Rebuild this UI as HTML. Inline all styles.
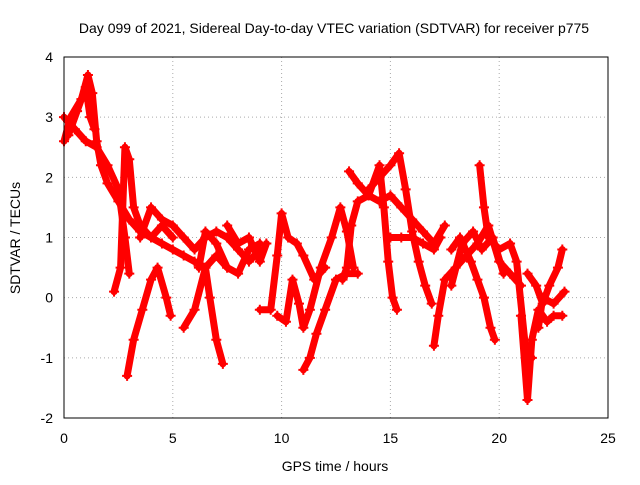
<!DOCTYPE html>
<html><head><meta charset="utf-8"><style>
body{margin:0;background:#fff;}
svg{font-family:"Liberation Sans",sans-serif;}
</style></head><body>
<svg id="chart" width="640" height="480">
<rect x="0" y="0" width="640" height="480" fill="#fff"/>
<text x="334" y="33" font-size="14" text-anchor="middle">Day 099 of 2021, Sidereal Day-to-day VTEC variation (SDTVAR) for receiver p775</text>
<text x="335" y="471" font-size="14" text-anchor="middle">GPS time / hours</text>
<text transform="translate(20,238) rotate(-90)" font-size="14" text-anchor="middle">SDTVAR / TECUs</text>
<g id="grid"></g><g id="ticks"></g><g id="series"></g>
<rect x="64" y="57" width="544" height="361" fill="none" stroke="#000"/>
</svg>
<script>
const xTicks=[0,5,10,15,20,25];
const yTicks=[-2,-1,0,1,2,3,4];
const trackA=[[0,2.6],[0.3,3.0],[0.8,3.3],[1.1,3.7],[1.3,3.4],[1.5,2.6],[1.7,2.2],[2.0,1.9],[2.5,1.6],[3.0,1.3],[3.5,1.1],[4,1.0],[4.5,0.9],[5,0.8],[5.5,0.7],[6,0.6],[6.5,0.5],[7,0.7],[7.5,0.5]];
const trackB=[[0,3.0],[0.5,2.8],[1,2.6],[1.5,2.5],[2,2.2],[2.5,1.8],[2.8,1.0],[3.0,0.4]];
const trackC=[[2.3,0.1],[2.6,0.5],[2.8,2.5],[3.0,2.3],[3.2,1.5],[3.5,1.2],[4,1.0],[4.5,1.2],[5,1.0]];
const trackD=[[2.9,-1.3],[3.2,-0.7],[3.6,-0.2],[4.0,0.3],[4.3,0.5],[4.7,0.0],[4.9,-0.3]];
const trackE=[[3.5,1.0],[4,1.5],[4.5,1.3],[5,1.2],[5.5,1.0],[6,0.8],[6.5,1.0],[7,1.1],[7.5,1.0],[8,0.8],[8.5,0.6],[9,0.8]];
const trackF=[[5.5,-0.5],[6,-0.2],[6.5,0.5],[6.7,0.0],[7.0,-0.7],[7.3,-1.1]];
const trackG=[[6.2,0.5],[6.5,1.1],[7,0.9],[7.5,0.5],[8,0.4],[8.5,0.8],[9,0.9]];
const trackH=[[9.0,-0.2],[9.5,-0.2],[9.8,0.7],[10,1.4],[10.3,1.0],[10.7,0.9],[11,0.7],[11.5,0.3],[12,0.5]];
const trackI=[[9.8,-0.3],[10.2,-0.4],[10.5,0.3],[10.8,-0.1],[11,-0.5],[11.3,-0.2],[11.8,0.5],[12.3,1.0],[12.7,1.5],[13,1.1],[13.3,0.5]];
const trackJ=[[11,-1.2],[11.3,-1.0],[11.6,-0.6],[12,-0.2],[12.5,0.3],[13,0.4],[13.5,0.4]];
const trackK=[[12.8,0.3],[13,0.5],[13.2,1.2],[13.5,1.6],[14,1.7],[14.5,1.6],[15,1.7],[15.5,1.5],[16,1.3],[16.5,1.1],[17,0.9],[17.5,1.2]];
const trackL=[[13.1,2.1],[13.5,1.9],[14,1.7],[14.5,2.2],[14.7,1.5],[14.9,0.6],[15.1,0.0],[15.3,-0.2]];
const trackM=[[14.0,1.8],[14.5,2.0],[15,2.2],[15.4,2.4],[15.7,1.8],[16,1.1],[16.3,0.6],[16.6,0.2],[16.9,-0.1]];
const trackN=[[15,1.0],[15.5,1.0],[16,1.0],[16.5,0.9],[17,0.8],[17.3,1.0]];
const trackO=[[17,-0.8],[17.2,-0.3],[17.5,0.3],[18,0.5],[18.5,0.7],[19,0.9],[19.5,1.2],[20,0.6],[20.5,0.4],[21,0.2]];
const trackP=[[17.8,0.8],[18.2,1.0],[18.7,0.6],[19,0.3],[19.3,0.0],[19.6,-0.5],[19.8,-0.7]];
const trackQ=[[19.1,2.2],[19.3,1.5],[19.5,1.0],[20,0.8],[20.5,0.9],[20.8,0.6],[21.2,-0.8],[21.5,-1.0]];
const trackR=[[21.0,-0.3],[21.3,-1.7],[21.5,-0.7],[21.8,-0.2],[22.2,-0.4],[22.5,-0.3],[22.9,-0.3]];
const trackS=[[21.3,0.4],[21.7,0.2],[22,-0.1],[22.3,0.2],[22.7,0.5],[22.9,0.8]];
const trackT=[[21.8,-0.5],[22,0.0],[22.5,-0.1],[23,0.1]];
const trackU=[[7.5,1.2],[8,0.9],[8.5,1.0],[9,0.6],[9.3,0.9]];
const trackV=[[17.8,0.2],[18.3,0.9],[18.8,1.1],[19.2,0.8],[19.7,1.0],[20.2,0.4]];
const trackW=[[0.2,2.7],[0.6,3.1],[1.0,3.5],[1.2,3.0],[1.4,2.8]];
const tracks=[trackA,trackB,trackC,trackD,trackE,trackF,trackG,trackH,trackI,trackJ,trackK,trackL,trackM,trackN,trackO,trackP,trackQ,trackR,trackS,trackT,trackU,trackV,trackW];
const NS="http://www.w3.org/2000/svg";
function xs(t){return 64+t*(544/25);}
function ys(v){return 418-(v+2)*(361/6);}
const grid=document.getElementById('grid'),tk=document.getElementById('ticks'),ser=document.getElementById('series');
xTicks.forEach(t=>{
 const x=xs(t);
 if(t>0&&t<25){const l=document.createElementNS(NS,'line');
 
 
 l.setAttribute('x1',x);l.setAttribute('x2',x);l.setAttribute('y1',57);l.setAttribute('y2',418);
 l.setAttribute('stroke','#aaa');l.setAttribute('stroke-dasharray','1,3');grid.appendChild(l);}
 const tx=document.createElementNS(NS,'text');
 
 
 tx.setAttribute('x',x);tx.setAttribute('y',443);tx.setAttribute('font-size','14');tx.setAttribute('text-anchor','middle');
 tx.textContent=t;tk.appendChild(tx);
});
yTicks.forEach(v=>{
 const y=ys(v);
 if(v>-2&&v<4){const l=document.createElementNS(NS,'line');
 
 
 l.setAttribute('x1',64);l.setAttribute('x2',608);l.setAttribute('y1',y);l.setAttribute('y2',y);
 l.setAttribute('stroke','#aaa');l.setAttribute('stroke-dasharray','1,3');grid.appendChild(l);}
 const tx=document.createElementNS(NS,'text');
 
 
 tx.setAttribute('x',53);tx.setAttribute('y',y+5);tx.setAttribute('font-size','14');tx.setAttribute('text-anchor','end');
 tx.textContent=v;tk.appendChild(tx);
});
tracks.forEach(tr=>{
 const p=document.createElementNS(NS,'polyline');
 
 
 p.setAttribute('points',tr.map(d=>xs(d[0])+','+ys(d[1])).join(' '));
 p.setAttribute('fill','none');p.setAttribute('stroke','#f00');p.setAttribute('stroke-width','7');
 p.setAttribute('stroke-linejoin','round');p.setAttribute('stroke-linecap','round');
 ser.appendChild(p);
 tr.forEach(d=>{
  const m=document.createElementNS(NS,'path');
  
  
  const x=xs(d[0]),y=ys(d[1]);
  m.setAttribute('d',`M${x-5},${y}H${x+5}M${x},${y-5}V${y+5}`);
  m.setAttribute('stroke','#f00');m.setAttribute('stroke-width','2');
  ser.appendChild(m);
 });
});
</script>
</body></html>
